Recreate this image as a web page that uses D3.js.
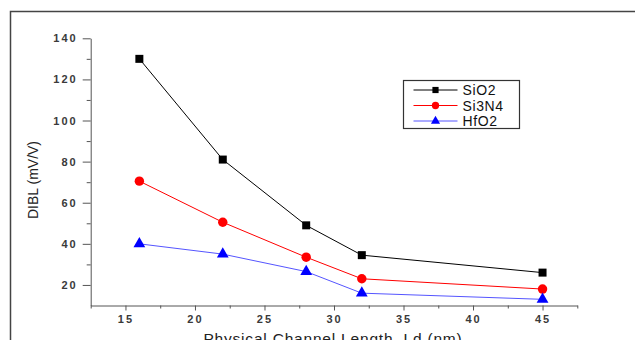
<!DOCTYPE html>
<meta charset="utf-8">
<style>
body { margin: 0; background: #fff; }
svg { display: block; }
.tick text { font-family: Arial, "Liberation Sans", sans-serif; font-weight: bold; font-size: 11px; fill: #3a3a3a; letter-spacing: 2px; }
.axis path, .axis line { stroke: #555; }
</style>
<svg></svg>
<script src="https://d3js.org/d3.v7.min.js"></script>
<script>

var width = 635,
    height = 340;

// channel length (nm)
var lengths = [16, 22, 28, 32, 45];
var sio2 = [130, 81, 49, 34.5, 26];
var si3n4 = [70.5, 50.5, 33.5, 23, 18];
var hfo2 = [40, 35, 26.5, 16, 13];
var names = ["SiO2", "Si3N4", "HfO2"];
var xTicks = [15, 20, 25, 30, 35, 40, 45];
var yTicks = [20, 40, 60, 80, 100, 120, 140];

var series = [
  { name: names[0], values: sio2, color: "#000", mark: d3.symbolSquare, size: 64 },
  { name: names[1], values: si3n4, color: "#f00", mark: d3.symbolCircle, size: 70 },
  { name: names[2], values: hfo2, color: "#00f", line: "#5555ff", mark: d3.symbolTriangle, size: 60 }
];

var svg = d3.select("svg")
    .attr("width", width)
    .attr("height", height);

// outer frame (left + top only visible)
svg.append("path")
    .attr("d", "M10.5," + height + "V11.5H" + width)
    .attr("fill", "none")
    .attr("stroke", "#444")
    .attr("stroke-width", 1.5);

var x = d3.scaleLinear().domain([12.5, 47.5]).range([90.7, 577.3]);
var y = d3.scaleLinear().domain([10, 140]).range([305.5, 38.3]);

svg.append("g")
    .attr("class", "axis")
    .attr("transform", "translate(0," + y(10) + ")")
    .call(d3.axisBottom(x).tickValues(xTicks).tickSize(5).tickSizeOuter(0).tickPadding(5));

svg.append("g")
    .attr("class", "axis")
    .attr("transform", "translate(0," + y(10) + ")")
    .call(d3.axisBottom(x).tickValues([12.5, 17.5, 22.5, 27.5, 32.5, 37.5, 42.5, 47.5]).tickSize(3).tickSizeOuter(0).tickFormat(""))
    .select(".domain").remove();

svg.append("g")
    .attr("class", "axis")
    .attr("transform", "translate(" + x(12.5) + ",0)")
    .call(d3.axisLeft(y).tickValues(yTicks).tickSize(8).tickSizeOuter(0).tickPadding(5));

svg.append("g")
    .attr("class", "axis")
    .attr("transform", "translate(" + x(12.5) + ",0)")
    .call(d3.axisLeft(y).tickValues([30, 50, 70, 90, 110, 130]).tickSize(4).tickFormat(""))
    .select(".domain").remove();

var line = d3.line()
    .x(function(d, i) { return x(lengths[i]); })
    .y(function(d) { return y(d); });

series.forEach(function(s) {
  svg.append("path")
      .datum(s.values)
      .attr("fill", "none")
      .attr("stroke", s.line || s.color)
      .attr("stroke-width", 1)
      .attr("d", line);

  svg.selectAll(null)
      .data(s.values)
    .enter().append("path")
      .attr("transform", function(d, i) { return "translate(" + x(lengths[i]) + "," + y(d) + ")"; })
      .attr("d", d3.symbol().type(s.mark).size(s.size))
      .attr("fill", s.color);
});

// legend
var legend = svg.append("g").attr("transform", "translate(403.5,80.5)");
legend.append("rect")
    .attr("width", 116)
    .attr("height", 48)
    .attr("fill", "#fff")
    .attr("stroke", "#333")
    .attr("stroke-width", 1.2);

series.forEach(function(s, i) {
  var g = legend.append("g").attr("transform", "translate(0," + (9.5 + i * 15.5) + ")");
  g.append("line")
      .attr("x1", 10).attr("x2", 54)
      .attr("stroke", s.line || s.color);
  g.append("path")
      .attr("transform", "translate(32,0)")
      .attr("d", d3.symbol().type(s.mark).size(s.size * 0.6))
      .attr("fill", s.color);
  g.append("text")
      .attr("x", 59)
      .attr("y", 5)
      .attr("font-family", "Arial, 'Liberation Sans', sans-serif")
      .attr("font-size", 14)
      .attr("fill", "#111")
      .style("letter-spacing", "0.6px")
      .text(s.name);
});

svg.append("text")
    .attr("transform", "translate(38,180) rotate(-90)")
    .attr("text-anchor", "middle")
    .attr("font-family", "Arial, 'Liberation Sans', sans-serif")
    .attr("font-size", 14)
    .attr("fill", "#222")
    .text("DIBL (mV/V)");

// axis title is cut by the bottom edge, as in the source image
svg.append("text")
    .attr("x", 333)
    .attr("y", 344)
    .attr("text-anchor", "middle")
    .attr("font-family", "Arial, 'Liberation Sans', sans-serif")
    .attr("font-size", 15.5)
    .attr("fill", "#222")
    .style("letter-spacing", "0.8px")
    .text("Physical Channel Length, Ld (nm)");

</script>
